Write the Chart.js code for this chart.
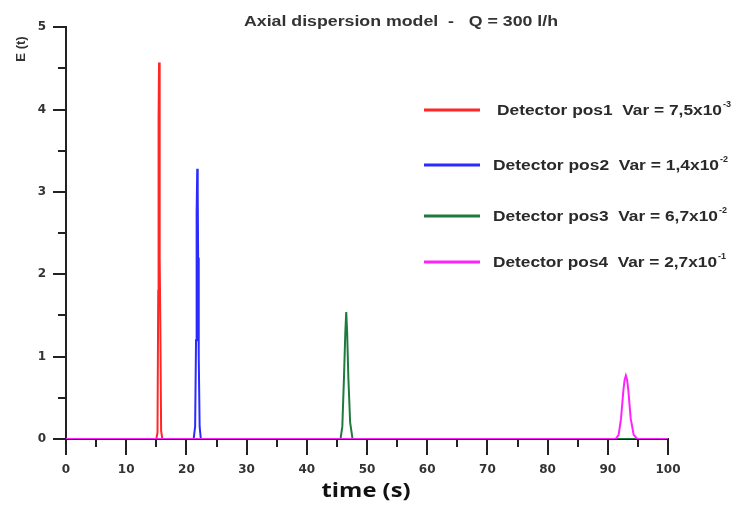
<!DOCTYPE html>
<html>
<head>
<meta charset="utf-8">
<script src="https://cdn.jsdelivr.net/npm/chart.js@4.4.1/dist/chart.umd.min.js"></script>
<style>
  html, body { margin: 0; padding: 0; background: #fff; }
  #wrap { width: 739px; height: 507px; }
</style>
</head>
<body>
<div id="wrap"><canvas id="chart" width="739" height="507"></canvas></div>
<script>
// ─── Data: tracer response curves E(t) at the four detector positions ─────────

const TITLE = 'Axial dispersion model  -   Q = 300 l/h';

const time1 = [0, 15.0, 15.2, 15.32, 15.38, 15.45, 15.52, 15.6, 15.68, 15.8, 16.0, 100];
const e1    = [0, 0,    0.08, 1.8,   3.9,   4.57,  4.1,   2.2,  1.3,   0.1,  0,    0];

const time2 = [0, 21.2, 21.45, 21.6, 21.7, 21.8, 21.88, 21.95, 22.05, 22.2, 22.4, 100];
const e2    = [0, 0,    0.15,  1.2,  2.75, 3.28, 3.0,   2.2,   1.0,   0.15, 0,    0];

const time3 = [0, 45.6, 45.9, 46.2, 46.4, 46.55, 46.7, 46.9, 47.2, 47.6, 100];
const e3    = [0, 0,    0.15, 0.8,  1.3,  1.54,  1.3,  0.75, 0.2,  0,    0];

const time4 = [0, 91.3, 91.8, 92.2, 92.6, 92.8, 93.0, 93.2, 93.4, 93.8, 94.3, 94.9, 100];
const e4    = [0, 0,    0.05, 0.25, 0.6,  0.72, 0.77, 0.72, 0.6,  0.25, 0.05, 0,    0];

const legendNames = ['Detector pos1', 'Detector pos2', 'Detector pos3', 'Detector pos4'];
const varMantissa = ['7,5x10', '1,4x10', '6,7x10', '2,7x10'];
const varExponent = ['-3', '-2', '-2', '-1'];
const seriesColors = ['#ff2626', '#2b2bff', '#1f7a3e', '#ff22ff'];

// ─── Helpers ──────────────────────────────────────────────────────────────────

const AXIS_COLOR = '#222';
const TEXT_COLOR = '#333';
const FONT_FAMILY = "'Liberation Sans', Arial, sans-serif";
const TICK_FONT = "'DejaVu Sans', sans-serif";

function toPoints(xs, ys) {
  return xs.map((x, i) => ({ x, y: ys[i] }));
}

function series(i, xs, ys) {
  return {
    label: legendNames[i],
    data: toPoints(xs, ys),
    showLine: true,
    borderColor: seriesColors[i],
    backgroundColor: seriesColors[i],
    borderWidth: 2,
    pointRadius: 0,
    tension: 0,
    order: 4 - i,   // last detector drawn on top
  };
}

// text squeezed/stretched horizontally to a given width; returns right edge
function wideText(ctx, text, x, y, width, align) {
  const w = ctx.measureText(text).width;
  const sx = width / w;
  let left = x;
  if (align === 'center') left = x - width / 2;
  ctx.save();
  ctx.textAlign = 'left';
  ctx.translate(left, y);
  ctx.scale(sx, 1);
  ctx.fillText(text, 0, 0);
  ctx.restore();
  return left + width;
}

// tick marks (long on labelled values, short in between)
const tickMarks = {
  id: 'tickMarks',
  afterDraw(chart) {
    const { ctx, chartArea, scales: { x, y } } = chart;
    ctx.save();
    ctx.strokeStyle = AXIS_COLOR;
    ctx.lineWidth = 2;
    ctx.beginPath();
    x.ticks.forEach(t => {
      const px = Math.round(x.getPixelForValue(t.value));
      const len = t.value % 10 === 0 ? 16 : 8;
      ctx.moveTo(px, chartArea.bottom);
      ctx.lineTo(px, chartArea.bottom + len);
    });
    y.ticks.forEach(t => {
      const py = Math.round(y.getPixelForValue(t.value));
      const len = Number.isInteger(t.value) ? 13 : 8;
      ctx.moveTo(chartArea.left, py);
      ctx.lineTo(chartArea.left - len, py);
    });
    ctx.stroke();
    ctx.restore();
  },
};

// title, axis labels and legend block
const annotations = {
  id: 'annotations',
  afterDraw(chart) {
    const { ctx } = chart;
    ctx.save();
    ctx.fillStyle = TEXT_COLOR;
    ctx.textBaseline = 'middle';
    ctx.font = `bold 14px ${FONT_FAMILY}`;
    wideText(ctx, TITLE, 401, 22, 314, 'center');

    ctx.fillStyle = '#111';
    ctx.font = "bold 20px 'Open Sans', sans-serif";
    wideText(ctx, 'time (s)', 366, 491, 89, 'center');

    ctx.save();
    ctx.fillStyle = TEXT_COLOR;
    ctx.translate(21, 49);
    ctx.rotate(-Math.PI / 2);
    ctx.font = `bold 13px ${FONT_FAMILY}`;
    ctx.textAlign = 'center';
    ctx.fillText('E (t)', 0, 0);
    ctx.restore();

    const rowsY = [110, 165, 216, 262];
    const textX = [497, 493, 493, 493];
    const textW = [225, 226, 225, 224];
    rowsY.forEach((ry, i) => {
      ctx.strokeStyle = seriesColors[i];
      ctx.lineWidth = 3;
      ctx.beginPath();
      ctx.moveTo(424, ry);
      ctx.lineTo(480, ry);
      ctx.stroke();

      ctx.fillStyle = '#2a2a2a';
      ctx.font = `bold 14px ${FONT_FAMILY}`;
      const main = `${legendNames[i]}  Var = ${varMantissa[i]}`;
      const end = wideText(ctx, main, textX[i], ry + 1, textW[i], 'left');
      ctx.font = `bold 9px ${FONT_FAMILY}`;
      ctx.textAlign = 'left';
      ctx.fillText(varExponent[i], end + 1, ry - 5);
    });
    ctx.restore();
  },
};

// ─── Chart ────────────────────────────────────────────────────────────────────

new Chart(document.getElementById('chart'), {
  type: 'scatter',
  data: {
    datasets: [
      series(0, time1, e1),
      series(1, time2, e2),
      series(2, time3, e3),
      series(3, time4, e4),
    ],
  },
  options: {
    responsive: false,
    devicePixelRatio: 1,
    animation: false,
    layout: { padding: { top: 14, right: 71, bottom: 0, left: 0 } },
    plugins: { legend: { display: false }, tooltip: { enabled: false }, title: { display: false } },
    scales: {
      x: {
        type: 'linear',
        min: 0, max: 100,
        afterFit(scale) { scale.height = 68; },
        ticks: {
          stepSize: 5,
          padding: 24,
          maxRotation: 0,
          autoSkip: false,
          color: TEXT_COLOR,
          font: { family: TICK_FONT, size: 12, weight: 'bold' },
          callback: v => (v % 10 === 0 ? v : ''),
        },
        grid: { display: true, drawOnChartArea: false, drawTicks: false },
        border: { display: true, color: AXIS_COLOR, width: 2 },
      },
      y: {
        type: 'linear',
        min: 0, max: 5,
        afterFit(scale) { scale.width = 66; },
        ticks: {
          stepSize: 0.5,
          padding: 20,
          autoSkip: false,
          color: TEXT_COLOR,
          font: { family: TICK_FONT, size: 12, weight: 'bold' },
          callback: v => (Number.isInteger(v) ? v : ''),
        },
        grid: { display: true, drawOnChartArea: false, drawTicks: false },
        border: { display: true, color: AXIS_COLOR, width: 2 },
      },
    },
  },
  plugins: [tickMarks, annotations],
});
</script>
</body>
</html>
